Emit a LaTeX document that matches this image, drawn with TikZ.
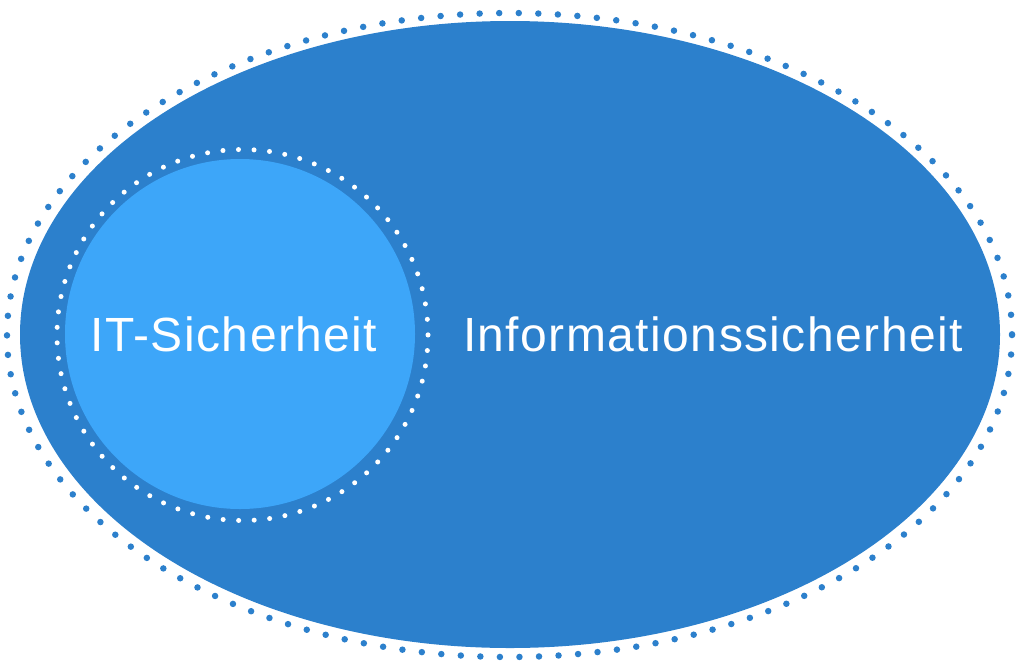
\documentclass[tikz,border=0pt]{standalone}
\usepackage{fontspec}
\setmainfont{Liberation Sans}[LetterSpace=3]
\definecolor{darkblue}{RGB}{44,128,204}
\definecolor{lightblue}{RGB}{61,166,249}
\begin{document}
\begin{tikzpicture}[x=1pt,y=-1pt,
  outerdots/.style={draw=darkblue,line width=6.5pt,line cap=round,dash pattern=on 0pt off 19.56pt},
  innerdots/.style={draw=white,line width=5pt,line cap=round,dash pattern=on 0pt off 15.54pt},
  lbl/.style={text=white,font=\fontsize{48}{56}\selectfont,anchor=base,inner sep=0pt}]
\useasboundingbox (0,0) rectangle (1024,670);
\path[fill=darkblue] (510,334.5) ellipse [x radius=490, y radius=313.5];
\path[outerdots] (509.5,335) ellipse [x radius=502.5, y radius=322];
\path[fill=lightblue] (240,334) circle [radius=175];
\path[innerdots] (242.5,335) circle [radius=185.5];
\node[lbl] (it) at (234,351) {IT-Sicherheit};
\node[lbl] (info) at (713,351) {Informationssicherheit};
\end{tikzpicture}
\end{document}
